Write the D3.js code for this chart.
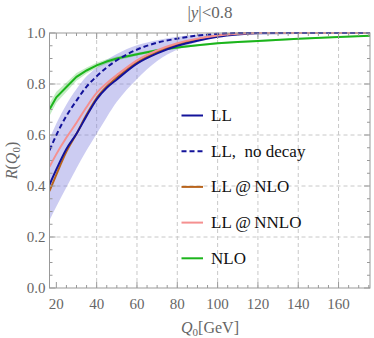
<!DOCTYPE html>
<html>
<head>
<meta charset="utf-8">
<script src="https://cdn.jsdelivr.net/npm/d3@7"></script>
<style>
  body { margin: 0; background: #fff; }
</style>
</head>
<body>
<div id="chart"></div>
<script>
// Q0 grid (GeV)
const qValues = [16.6, 20, 25, 30, 35, 40, 45, 50, 60, 70, 80, 90, 100, 110, 120, 140, 160, 175.6];
// curves R(Q0)
const llValues       = [0.405, 0.465, 0.545, 0.605, 0.675, 0.740, 0.785, 0.818, 0.880, 0.920, 0.950, 0.970, 0.985, 0.994, 0.999, 1, 1, 1];
const llNoDecay      = [0.540, 0.600, 0.675, 0.735, 0.790, 0.830, 0.865, 0.893, 0.935, 0.962, 0.978, 0.990, 0.997, 1, 1, 1, 1, 1];
const llNlo          = [0.380, 0.445, 0.535, 0.605, 0.680, 0.745, 0.790, 0.825, 0.885, 0.925, 0.955, 0.975, 0.990, 0.997, 1, 1, 1, 1];
const llNnlo         = [0.475, 0.525, 0.590, 0.648, 0.710, 0.765, 0.803, 0.835, 0.893, 0.932, 0.960, 0.978, 0.990, 0.997, 1, 1, 1, 1];
const nloValues      = [0.700, 0.748, 0.788, 0.828, 0.853, 0.873, 0.888, 0.900, 0.917, 0.932, 0.943, 0.952, 0.960, 0.965, 0.969, 0.977, 0.984, 0.989];
// uncertainty bands
const llBandLow      = [0.266, 0.320, 0.395, 0.470, 0.540, 0.605, 0.670, 0.730, 0.820, 0.890, 0.935, 0.965, 0.985, 0.996, 1, 1, 1, 1];
const llBandHigh     = [0.585, 0.645, 0.720, 0.780, 0.830, 0.865, 0.895, 0.918, 0.952, 0.972, 0.985, 0.994, 0.999, 1, 1, 1, 1, 1];
const nloBandWidth   = [0.025, 0.022, 0.018, 0.015, 0.012, 0.010, 0.009, 0.008, 0.006, 0.005, 0.005, 0.004, 0.004, 0.004, 0.004, 0.003, 0.003, 0.003];

const xTicks = [20, 40, 60, 80, 100, 120, 140, 160];
const yTicks = [0.0, 0.2, 0.4, 0.6, 0.8, 1.0];
const legendLabels = ["LL", "LL,  no decay", "LL\u2009@\u2009NLO", "LL\u2009@\u2009NNLO", "NLO"];

// 尺寸
const W = 374, H = 338;
const margin = { top: 33, right: 4, bottom: 50, left: 49.5 };
const width = W - margin.left - margin.right,
      height = H - margin.top - margin.bottom;
const serif = "'Liberation Serif', 'Times New Roman', Times, 'DejaVu Serif', serif";

const svg = d3.select("#chart").append("svg")
    .attr("width", W).attr("height", H)
    .style("font-family", serif);
const g = svg.append("g").attr("transform", `translate(${margin.left},${margin.top})`);

const x = d3.scaleLinear().domain([16.6, 175.6]).range([0, width]);
const y = d3.scaleLinear().domain([0, 1]).range([height, 0]);

const gray = "#999";
const labelGray = "#666";

// 网格线
g.selectAll(".gx").data(xTicks.filter(d => d >= 40)).enter().append("line")
    .attr("x1", d => x(d)).attr("x2", d => x(d))
    .attr("y1", 0).attr("y2", height)
    .attr("stroke", "#c8c8c8").attr("stroke-dasharray", "4,3").attr("stroke-width", 1);
g.selectAll(".gy").data([0.2, 0.4, 0.6, 0.8]).enter().append("line")
    .attr("x1", 0).attr("x2", width)
    .attr("y1", d => y(d)).attr("y2", d => y(d))
    .attr("stroke", "#c8c8c8").attr("stroke-dasharray", "4,3").attr("stroke-width", 1);

g.append("clipPath").attr("id", "clip").append("rect")
    .attr("width", width).attr("height", height + 1).attr("y", -1);
const plot = g.append("g").attr("clip-path", "url(#clip)");

const rows = qValues.map((q, i) => ({ q, i }));

// 误差带
plot.append("path").datum(rows)
    .attr("fill", "rgb(120,120,220)").attr("fill-opacity", 0.38)
    .attr("d", d3.area().curve(d3.curveMonotoneX)
        .x(d => x(d.q)).y0(d => y(llBandLow[d.i])).y1(d => y(llBandHigh[d.i])));
plot.append("path").datum(rows)
    .attr("fill", "rgb(60,190,60)").attr("fill-opacity", 0.3)
    .attr("d", d3.area()
        .x(d => x(d.q)).y0(d => y(nloValues[d.i] - nloBandWidth[d.i])).y1(d => y(nloValues[d.i] + nloBandWidth[d.i])));

const series = [
    { vals: nloValues, color: "#1cb51c", dash: null, curve: d3.curveLinear },
    { vals: llNlo, color: "#b8641c", dash: null, curve: d3.curveMonotoneX },
    { vals: llValues, color: "#13139a", dash: null, curve: d3.curveMonotoneX },
    { vals: llNnlo, color: "#f59090", dash: null, curve: d3.curveMonotoneX },
    { vals: llNoDecay, color: "#13139a", dash: "5,3", curve: d3.curveMonotoneX }
];
series.forEach(s => {
    plot.append("path").datum(rows)
        .attr("fill", "none").attr("stroke", s.color).attr("stroke-width", 2)
        .attr("stroke-dasharray", s.dash)
        .attr("d", d3.line().curve(s.curve).x(d => x(d.q)).y(d => y(s.vals[d.i])));
});

// 边框和刻度
g.append("rect").attr("width", width).attr("height", height)
    .attr("fill", "none").attr("stroke", gray).attr("stroke-width", 1);

const xMinor = d3.range(20, 176, 5);
const yMinor = d3.range(0, 1.001, 0.05);
xMinor.forEach(v => {
    const len = v % 20 === 0 ? 6 : 3;
    g.append("line").attr("x1", x(v)).attr("x2", x(v)).attr("y1", height).attr("y2", height - len)
        .attr("stroke", gray);
    g.append("line").attr("x1", x(v)).attr("x2", x(v)).attr("y1", 0).attr("y2", len)
        .attr("stroke", gray);
});
yMinor.forEach(v => {
    const major = Math.abs(v * 5 - Math.round(v * 5)) < 1e-6;
    const len = major ? 6 : 3;
    g.append("line").attr("x1", 0).attr("x2", len).attr("y1", y(v)).attr("y2", y(v))
        .attr("stroke", gray);
    g.append("line").attr("x1", width).attr("x2", width - len).attr("y1", y(v)).attr("y2", y(v))
        .attr("stroke", gray);
});

g.selectAll(".xl").data(xTicks).enter().append("text")
    .attr("x", d => x(d)).attr("y", height + 21)
    .attr("text-anchor", "middle").attr("font-size", 15).attr("fill", labelGray)
    .text(d => d);
g.selectAll(".yl").data(yTicks).enter().append("text")
    .attr("x", -4).attr("y", d => y(d) + 5)
    .attr("text-anchor", "end").attr("font-size", 15).attr("fill", labelGray)
    .text(d => d.toFixed(1));

// 标题
const title = svg.append("text").attr("x", 210).attr("y", 18)
    .attr("text-anchor", "middle").attr("font-size", 17).attr("fill", labelGray);
title.append("tspan").text("|");
title.append("tspan").attr("font-style", "italic").text("y");
title.append("tspan").text("|<0.8");

// 坐标轴标签
const xl = svg.append("text").attr("x", 210).attr("y", 333)
    .attr("text-anchor", "middle").attr("font-size", 16).attr("fill", labelGray);
xl.append("tspan").attr("font-style", "italic").text("Q");
xl.append("tspan").attr("font-size", 11).attr("dy", 3).text("0");
xl.append("tspan").attr("dy", -3).text("[GeV]");

const yl = svg.append("text").attr("transform", `translate(17,${margin.top + height / 2}) rotate(-90)`)
    .attr("text-anchor", "middle").attr("font-size", 16).attr("fill", labelGray);
yl.append("tspan").attr("font-style", "italic").text("R");
yl.append("tspan").text("(");
yl.append("tspan").attr("font-style", "italic").text("Q");
yl.append("tspan").attr("font-size", 11).attr("dy", 3).text("0");
yl.append("tspan").attr("dy", -3).text(")");

// 图例
const legendSeries = [
    { color: "#13139a", dash: null },
    { color: "#13139a", dash: "5,3" },
    { color: "#b8641c", dash: null },
    { color: "#f59090", dash: null },
    { color: "#1cb51c", dash: null }
];
legendLabels.forEach((lab, i) => {
    const ly = 115.5 + i * 35.7;
    svg.append("line").attr("x1", 181.5).attr("x2", 203).attr("y1", ly).attr("y2", ly)
        .attr("stroke", legendSeries[i].color).attr("stroke-width", 2)
        .attr("stroke-dasharray", legendSeries[i].dash);
    svg.append("text").attr("x", 211).attr("y", ly + 5.5)
        .attr("font-size", 17).attr("fill", "#111")
        .style("white-space", "pre").text(lab);
});
</script>
</body>
</html>
